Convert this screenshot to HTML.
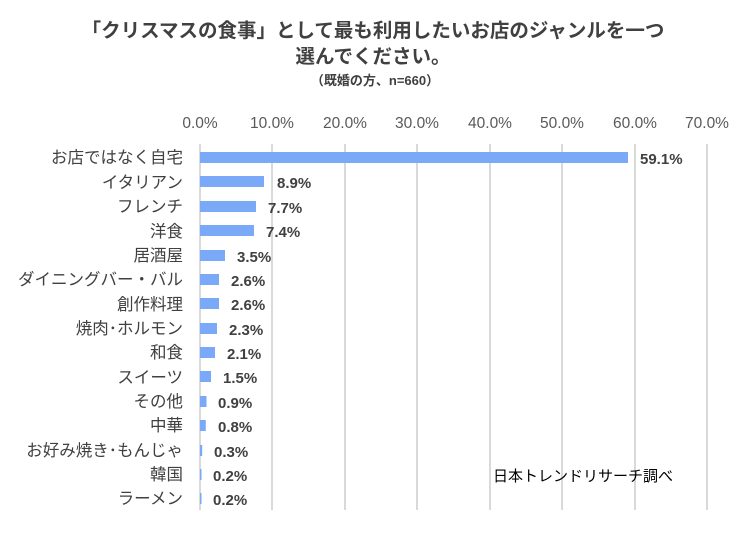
<!DOCTYPE html>
<html><head><meta charset="utf-8"><style>
body{margin:0;background:#fff}
svg text{font-family:"Liberation Sans","Noto Sans CJK JP",sans-serif}
</style></head><body>
<svg width="750" height="534" xmlns="http://www.w3.org/2000/svg">
<rect width="750" height="534" fill="#fff"/>
<text x="373" y="37" text-anchor="middle" font-size="19.5" font-weight="bold" fill="#404040">「クリスマスの食事」として最も利用したいお店のジャンルを一つ</text>
<text x="373" y="63" text-anchor="middle" font-size="19.5" font-weight="bold" fill="#404040">選んでください。</text>
<text x="375" y="85" text-anchor="middle" font-size="13" font-weight="bold" fill="#404040">（既婚の方、n=660）</text>
<g stroke="#d9d9d9" stroke-width="2">
<line x1="200" y1="144" x2="200" y2="510"/><line x1="272" y1="144" x2="272" y2="510"/><line x1="345" y1="144" x2="345" y2="510"/><line x1="417" y1="144" x2="417" y2="510"/><line x1="490" y1="144" x2="490" y2="510"/><line x1="562" y1="144" x2="562" y2="510"/><line x1="635" y1="144" x2="635" y2="510"/><line x1="707" y1="144" x2="707" y2="510"/>
</g>
<g font-size="15.5" fill="#595959" text-anchor="middle">
<text x="200" y="128">0.0%</text><text x="272" y="128">10.0%</text><text x="345" y="128">20.0%</text><text x="417" y="128">30.0%</text><text x="490" y="128">40.0%</text><text x="562" y="128">50.0%</text><text x="635" y="128">60.0%</text><text x="707" y="128">70.0%</text>
</g>
<g fill="#7aa9f7">
<rect x="200" y="152" width="428" height="11"/>
<rect x="200" y="176" width="64" height="11"/>
<rect x="200" y="201" width="56" height="11"/>
<rect x="200" y="225" width="54" height="11"/>
<rect x="200" y="250" width="25" height="11"/>
<rect x="200" y="274" width="19" height="11"/>
<rect x="200" y="298" width="19" height="11"/>
<rect x="200" y="323" width="17" height="11"/>
<rect x="200" y="347" width="15" height="11"/>
<rect x="200" y="371" width="11" height="11"/>
<rect x="200" y="396" width="6.5" height="11"/>
<rect x="200" y="420" width="5.8" height="11"/>
<rect x="200" y="445" width="2.2" height="11"/>
<rect x="200" y="469" width="1.5" height="11"/>
<rect x="200" y="493" width="1.5" height="11"/>
</g>
<g font-size="16.5" fill="#404040" text-anchor="end">
<text x="183" y="163">お店ではなく自宅</text>
<text x="183" y="188">イタリアン</text>
<text x="183" y="212">フレンチ</text>
<text x="183" y="237">洋食</text>
<text x="183" y="261">居酒屋</text>
<text x="183" y="285">ダイニングバー・バル</text>
<text x="183" y="310">創作料理</text>
<text x="183" y="334">焼肉･ホルモン</text>
<text x="183" y="358">和食</text>
<text x="183" y="383">スイーツ</text>
<text x="183" y="407">その他</text>
<text x="183" y="431">中華</text>
<text x="183" y="456">お好み焼き･もんじゃ</text>
<text x="183" y="480">韓国</text>
<text x="183" y="504">ラーメン</text>
</g>
<g font-size="15" font-weight="bold" fill="#404040">
<text x="640" y="164">59.1%</text>
<text x="277" y="188">8.9%</text>
<text x="268" y="213">7.7%</text>
<text x="266" y="237">7.4%</text>
<text x="237" y="262">3.5%</text>
<text x="231" y="286">2.6%</text>
<text x="231" y="310">2.6%</text>
<text x="229" y="335">2.3%</text>
<text x="227" y="359">2.1%</text>
<text x="223" y="383">1.5%</text>
<text x="218" y="408">0.9%</text>
<text x="218" y="432">0.8%</text>
<text x="214" y="457">0.3%</text>
<text x="213" y="481">0.2%</text>
<text x="213" y="505">0.2%</text>
</g>
<text x="493" y="481" font-size="15" fill="#000">日本トレンドリサーチ調べ</text>
</svg>
</body></html>
